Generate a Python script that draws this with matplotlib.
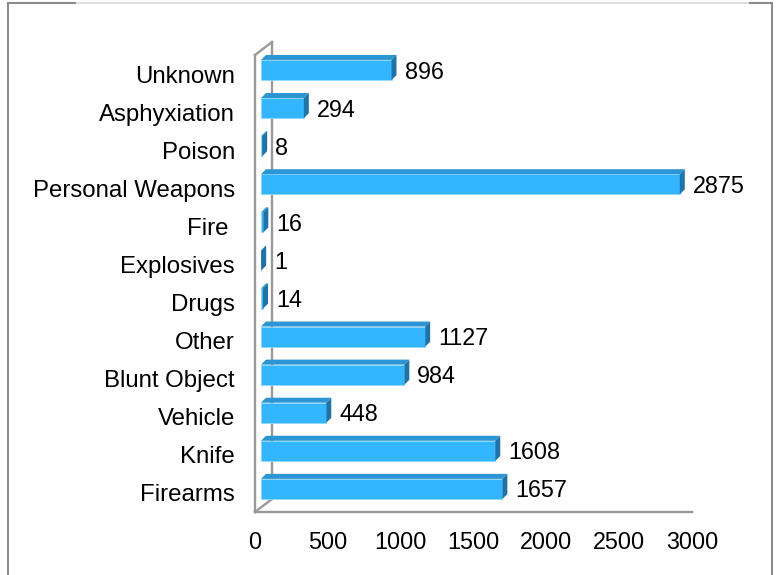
import matplotlib
matplotlib.use("Agg")
import matplotlib.pyplot as plt
import matplotlib.transforms as mtransforms
from matplotlib.patches import Polygon
from matplotlib.lines import Line2D

# data, bottom to top
categories = ["Firearms", "Knife", "Vehicle", "Blunt Object", "Other", "Drugs",
              "Explosives", "Fire ", "Personal Weapons", "Poison", "Asphyxiation", "Unknown"]
values = [1657, 1608, 448, 984, 1127, 14, 1, 16, 2875, 8, 294, 896]
x_ticks = [0, 500, 1000, 1500, 2000, 2500, 3000]

plt.rcParams['font.family'] = ['Liberation Sans', 'DejaVu Sans']

W, H = 776, 575
FRONT = "#33b6ff"
TOP = "#2c96d4"
SIDE = "#1f73a6"
WALL = "#999999"

fig = plt.figure(figsize=(W / 100, H / 100), dpi=100)
ax = fig.add_axes([255 / W, 1 - 512 / H, (692 - 255) / W, (512 - 55) / H])
ax.set_xlim(x_ticks[0], x_ticks[-1])
ax.set_ylim(-0.5, len(categories) - 0.5)
for s in ax.spines.values():
    s.set_visible(False)
ax.set_xticks(x_ticks)
ax.set_yticks(range(len(categories)))
ax.set_yticklabels(categories, fontsize=17.3)
ax.tick_params(axis="x", length=0, labelsize=16.8, pad=13.5)
ax.tick_params(axis="y", length=0, pad=14.4)

ident = mtransforms.IdentityTransform()
px = fig.dpi_scale_trans


def shift(dx, dy):
    # pixel offset on top of data coords
    return ax.transData + mtransforms.ScaledTranslation(dx / 100, dy / 100, px)


# walls (pseudo 3d)
wall_dx, wall_dy = 17, 13
y_lo, y_hi = ax.get_ylim()
p0 = ax.transData.transform((0, y_lo))
p1 = ax.transData.transform((0, y_hi))
p2 = ax.transData.transform((x_ticks[-1], y_lo))
segs = [
    [p0, p2],
    [p0, p1],
    [p0, (p0[0] + wall_dx, p0[1] + wall_dy)],
    [p1, (p1[0] + wall_dx, p1[1] + wall_dy)],
    [(p0[0] + wall_dx, p0[1] + wall_dy), (p1[0] + wall_dx, p1[1] + wall_dy)],
]
for a, b in segs:
    ax.add_artist(Line2D([a[0], b[0]], [a[1], b[1]], transform=ident,
                         color=WALL, lw=1.7, clip_on=False, zorder=1))

# bars
h = 0.53
fx, fy = 6, 4      # front face shift
dx, dy = 5, 5      # bar depth
front = shift(fx, fy)
ypos = list(range(len(categories)))
ax.barh(ypos, values, height=h, color=FRONT, edgecolor="#8fd6ff", linewidth=0.6,
        transform=front, zorder=3, clip_on=False)

for i, v in zip(ypos, values):
    x0, y0 = front.transform((0, i - h / 2))
    x1, y1 = front.transform((v, i + h / 2))
    top = Polygon([(x0, y1), (x1, y1), (x1 + dx, y1 + dy), (x0 + dx, y1 + dy)],
                  closed=True, transform=ident, facecolor=TOP, edgecolor="none",
                  clip_on=False, zorder=3)
    side = Polygon([(x1, y0), (x1 + dx, y0 + dy), (x1 + dx, y1 + dy), (x1, y1)],
                   closed=True, transform=ident, facecolor=SIDE, edgecolor="none",
                   clip_on=False, zorder=3)
    ax.add_artist(top)
    ax.add_artist(side)
    ax.text(v, i, str(v), transform=shift(fx + dx + 8, fy - 2), fontsize=16.8,
            va="center", ha="left", clip_on=False, zorder=4)

# outer frame
fig.add_artist(Line2D([8 / W, 8 / W], [0, 1 - 3 / H], color="#8c8c8c", lw=1.5))
fig.add_artist(Line2D([772 / W, 772 / W], [0, 1 - 3 / H], color="#8c8c8c", lw=1.5))
fig.add_artist(Line2D([8 / W, 772 / W], [1 - 3 / H, 1 - 3 / H], color="#d9d9d9", lw=1.2))
fig.add_artist(Line2D([8 / W, 75 / W], [1 - 2.5 / H, 1 - 2.5 / H], color="#8c8c8c", lw=1.5))
fig.add_artist(Line2D([750 / W, 772 / W], [1 - 2.5 / H, 1 - 2.5 / H], color="#8c8c8c", lw=1.5))

fig.savefig("out.png", dpi=100)
